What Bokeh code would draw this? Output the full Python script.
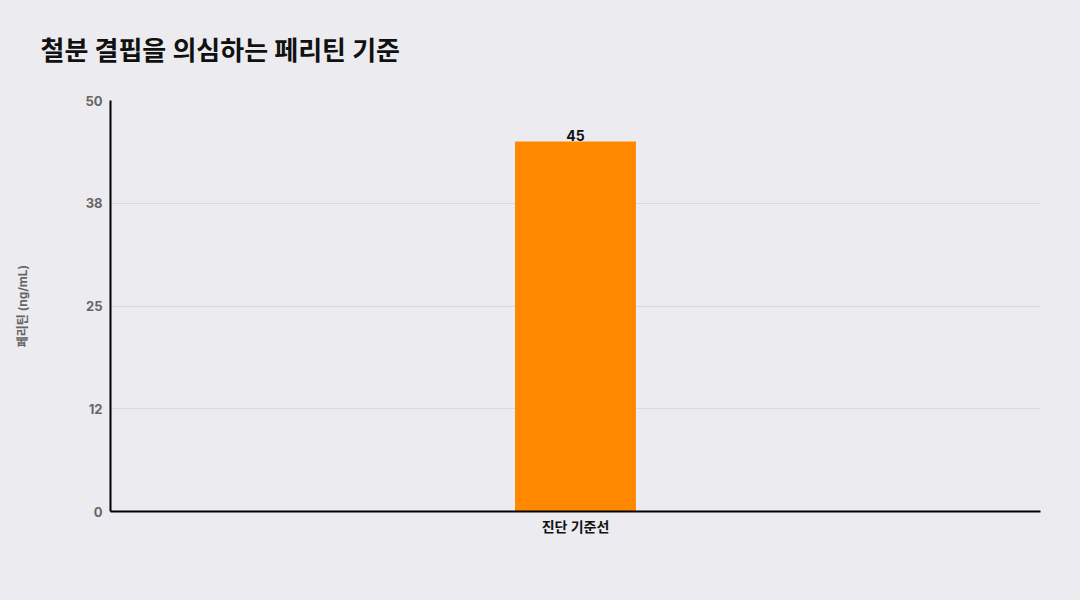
from bokeh.plotting import figure
from bokeh.models import ColumnDataSource, FixedTicker, Range1d
from bokeh.embed import file_html
from bokeh.resources import INLINE

title_text = "철분 결핍을 의심하는 페리틴 기준"
categories = ["진단 기준선"]
values = [45]
value_labels = ["45"]
y_ticks = [0, 12.5, 25, 37.5, 50]
y_tick_labels = ["0", "12", "25", "38", "50"]

FONT = "Inter, 'Noto Sans CJK KR', sans-serif"
BG = "#ECEBF0"

src = ColumnDataSource(dict(cat=categories, val=values, lab=value_labels))

p = figure(x_range=categories, y_range=Range1d(0, 50), width=1064, height=584,
           output_backend="svg", toolbar_location=None, title=title_text)
p.background_fill_color = BG
p.border_fill_color = BG
p.outline_line_color = None
p.min_border_left = 110
p.min_border_right = 24
p.min_border_top = 100
p.min_border_bottom = 73

p.title.text_font = FONT
p.title.text_font_size = "26px"
p.title.text_font_style = "bold"
p.title.text_color = "#111111"
p.title.align = "left"
p.title.vertical_align = "top"
p.title.offset = -70
p.title.standoff = 66

p.vbar(x="cat", top="val", width=0.13, source=src, color="#FF8800", line_color=None)
p.text(x="cat", y="val", text="lab", source=src, text_align="center",
       text_baseline="bottom", text_font_size="14px", text_font_style="bold",
       text_color="#111111", text_font={"value": FONT}, y_offset=-1)

p.yaxis.ticker = FixedTicker(ticks=y_ticks)
p.yaxis.major_label_overrides = {t: l for t, l in zip(y_ticks, y_tick_labels)}
p.yaxis.axis_label = "페리틴 (ng/mL)"
p.yaxis.axis_label_text_font = FONT
p.yaxis.axis_label_text_font_size = "12px"
p.yaxis.axis_label_text_font_style = "bold"
p.yaxis.axis_label_text_color = "#666666"
p.yaxis.axis_label_standoff = 52
p.yaxis.major_label_text_font = FONT
p.yaxis.major_label_text_font_size = "13px"
p.yaxis.major_label_text_font_style = "bold"
p.yaxis.major_label_text_color = "#666666"
p.yaxis.major_label_standoff = 8

p.xaxis.major_label_text_font = FONT
p.xaxis.major_label_text_font_size = "14px"
p.xaxis.major_label_text_font_style = "bold"
p.xaxis.major_label_text_color = "#111111"
p.xaxis.major_label_standoff = 6

for ax in (p.xaxis, p.yaxis):
    ax.axis_line_color = "#000000"
    ax.axis_line_width = 2
    ax.major_tick_line_color = None
    ax.minor_tick_line_color = None
    ax.major_tick_out = 0
    ax.major_tick_in = 0

p.xgrid.grid_line_color = None
p.ygrid.grid_line_color = "#D9D8DE"
p.ygrid.grid_line_width = 1

html = file_html(p, INLINE)
html = html.replace("</head>", "<style>html, body { background: %s; }</style></head>" % BG, 1)
open("out.html", "w").write(html)
